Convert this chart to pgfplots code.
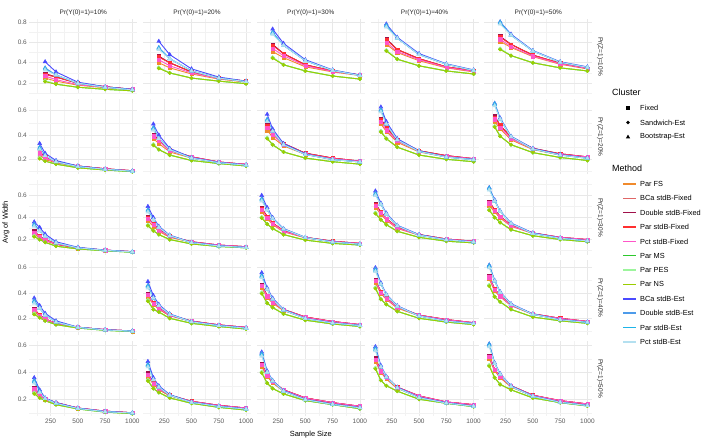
\documentclass[border=0pt]{standalone}
\usepackage{pgfplots}
\usepackage{pgfplotstable}
\pgfplotsset{compat=1.18}
\usepackage{fontspec}
\setmainfont{Liberation Sans}

\definecolor{colA}{RGB}{240,138,44}
\definecolor{colB}{RGB}{224,102,102}
\definecolor{colC}{RGB}{160,16,74}
\definecolor{colD}{RGB}{255,48,48}
\definecolor{colE}{RGB}{255,85,200}
\definecolor{colF}{RGB}{45,200,45}
\definecolor{colG}{RGB}{157,245,157}
\definecolor{colH}{RGB}{154,205,0}
\definecolor{colI}{RGB}{74,74,255}
\definecolor{colJ}{RGB}{77,155,234}
\definecolor{colK}{RGB}{30,180,232}
\definecolor{colL}{RGB}{180,224,240}

\pgfplotstableread{
n FS BCaF DblF ParF PctF MS PES NS BCaE DblE ParE PctE
200 0.25 0.29 0.295 0.285 0.27 0.22 0.225 0.215 0.41 0.35 0.34 0.33
300 0.22 0.26 0.26 0.26 0.235 0.19 0.19 0.19 0.31 0.28 0.28 0.28
500 0.18 0.20 0.20 0.20 0.185 0.16 0.16 0.16 0.21 0.20 0.20 0.20
750 0.155 0.165 0.165 0.165 0.16 0.14 0.14 0.14 0.165 0.16 0.16 0.16
1000 0.135 0.14 0.14 0.14 0.14 0.125 0.125 0.125 0.14 0.135 0.135 0.135
}\rAcA
\pgfplotstableread{
n FS BCaF DblF ParF PctF MS PES NS BCaE DblE ParE PctE
200 0.40 0.46 0.465 0.455 0.43 0.35 0.355 0.345 0.61 0.55 0.54 0.53
300 0.35 0.40 0.40 0.40 0.37 0.30 0.30 0.30 0.48 0.44 0.44 0.44
500 0.29 0.31 0.31 0.31 0.30 0.25 0.25 0.25 0.34 0.32 0.32 0.32
750 0.24 0.25 0.25 0.25 0.245 0.22 0.22 0.22 0.26 0.25 0.25 0.25
1000 0.21 0.22 0.22 0.22 0.215 0.195 0.195 0.195 0.22 0.215 0.215 0.215
}\rAcB
\pgfplotstableread{
n FS BCaF DblF ParF PctF MS PES NS BCaE DblE ParE PctE
200 0.51 0.575 0.58 0.57 0.54 0.45 0.455 0.445 0.73 0.70 0.69 0.68
300 0.45 0.49 0.49 0.49 0.47 0.38 0.38 0.38 0.59 0.57 0.57 0.57
500 0.36 0.38 0.38 0.38 0.37 0.32 0.32 0.32 0.43 0.42 0.42 0.42
750 0.31 0.32 0.32 0.32 0.315 0.27 0.27 0.27 0.33 0.325 0.325 0.325
1000 0.275 0.28 0.28 0.28 0.28 0.24 0.24 0.24 0.28 0.275 0.275 0.275
}\rAcC
\pgfplotstableread{
n FS BCaF DblF ParF PctF MS PES NS BCaE DblE ParE PctE
200 0.58 0.63 0.635 0.625 0.60 0.52 0.525 0.515 0.78 0.77 0.76 0.75
300 0.50 0.53 0.53 0.53 0.51 0.435 0.435 0.435 0.65 0.64 0.64 0.64
500 0.42 0.44 0.44 0.44 0.43 0.37 0.37 0.37 0.49 0.48 0.48 0.48
750 0.35 0.36 0.36 0.36 0.355 0.32 0.32 0.32 0.39 0.385 0.385 0.385
1000 0.31 0.32 0.32 0.32 0.315 0.29 0.29 0.29 0.33 0.325 0.325 0.325
}\rAcD
\pgfplotstableread{
n FS BCaF DblF ParF PctF MS PES NS BCaE DblE ParE PctE
200 0.61 0.655 0.66 0.65 0.63 0.535 0.54 0.53 0.80 0.80 0.79 0.78
300 0.55 0.58 0.58 0.58 0.56 0.47 0.47 0.47 0.68 0.67 0.67 0.67
500 0.46 0.475 0.475 0.475 0.465 0.40 0.40 0.40 0.52 0.515 0.515 0.515
750 0.385 0.395 0.395 0.395 0.39 0.35 0.35 0.35 0.41 0.405 0.405 0.405
1000 0.34 0.345 0.345 0.345 0.345 0.32 0.32 0.32 0.36 0.355 0.355 0.355
}\rAcE
\pgfplotstableread{
n FS BCaF DblF ParF PctF MS PES NS BCaE DblE ParE PctE
150 0.235 0.26 0.265 0.255 0.25 0.21 0.215 0.205 0.33 0.30 0.29 0.28
200 0.20 0.22 0.22 0.22 0.21 0.185 0.185 0.185 0.25 0.23 0.23 0.23
300 0.17 0.18 0.18 0.18 0.175 0.16 0.16 0.16 0.19 0.18 0.18 0.18
500 0.14 0.145 0.145 0.145 0.143 0.13 0.13 0.13 0.145 0.14 0.14 0.14
750 0.12 0.122 0.122 0.122 0.121 0.112 0.112 0.112 0.12 0.118 0.118 0.118
1000 0.104 0.106 0.106 0.106 0.106 0.098 0.098 0.098 0.104 0.102 0.102 0.102
}\rBcA
\pgfplotstableread{
n FS BCaF DblF ParF PctF MS PES NS BCaE DblE ParE PctE
150 0.37 0.40 0.405 0.395 0.39 0.32 0.325 0.315 0.49 0.46 0.45 0.44
200 0.33 0.36 0.36 0.36 0.35 0.28 0.28 0.28 0.40 0.37 0.37 0.37
300 0.26 0.275 0.275 0.275 0.27 0.235 0.235 0.235 0.29 0.28 0.28 0.28
500 0.21 0.22 0.22 0.22 0.218 0.19 0.19 0.19 0.215 0.21 0.21 0.21
750 0.172 0.178 0.178 0.178 0.177 0.165 0.165 0.165 0.175 0.172 0.172 0.172
1000 0.153 0.158 0.158 0.158 0.158 0.145 0.145 0.145 0.155 0.152 0.152 0.152
}\rBcB
\pgfplotstableread{
n FS BCaF DblF ParF PctF MS PES NS BCaE DblE ParE PctE
150 0.44 0.48 0.485 0.475 0.46 0.375 0.38 0.37 0.57 0.53 0.52 0.51
200 0.38 0.42 0.42 0.42 0.40 0.32 0.32 0.32 0.45 0.43 0.43 0.43
300 0.31 0.33 0.33 0.33 0.32 0.26 0.26 0.26 0.33 0.32 0.32 0.32
500 0.24 0.25 0.25 0.25 0.245 0.21 0.21 0.21 0.245 0.24 0.24 0.24
750 0.20 0.21 0.21 0.21 0.205 0.18 0.18 0.18 0.20 0.198 0.198 0.198
1000 0.18 0.185 0.185 0.185 0.185 0.16 0.16 0.16 0.18 0.178 0.178 0.178
}\rBcC
\pgfplotstableread{
n FS BCaF DblF ParF PctF MS PES NS BCaE DblE ParE PctE
150 0.49 0.53 0.535 0.525 0.51 0.43 0.435 0.425 0.63 0.61 0.60 0.59
200 0.43 0.46 0.46 0.46 0.44 0.37 0.37 0.37 0.51 0.49 0.49 0.49
300 0.34 0.36 0.36 0.36 0.35 0.30 0.30 0.30 0.37 0.36 0.36 0.36
500 0.26 0.27 0.27 0.27 0.265 0.235 0.235 0.235 0.27 0.265 0.265 0.265
750 0.22 0.23 0.23 0.23 0.225 0.20 0.20 0.20 0.22 0.218 0.218 0.218
1000 0.20 0.205 0.205 0.205 0.205 0.18 0.18 0.18 0.20 0.197 0.197 0.197
}\rBcD
\pgfplotstableread{
n FS BCaF DblF ParF PctF MS PES NS BCaE DblE ParE PctE
150 0.51 0.55 0.555 0.545 0.53 0.47 0.475 0.465 0.66 0.66 0.65 0.64
200 0.45 0.48 0.48 0.48 0.46 0.39 0.39 0.39 0.54 0.53 0.53 0.53
300 0.36 0.38 0.38 0.38 0.37 0.32 0.32 0.32 0.39 0.385 0.385 0.385
500 0.28 0.29 0.29 0.29 0.285 0.255 0.255 0.255 0.29 0.285 0.285 0.285
750 0.235 0.245 0.245 0.245 0.24 0.215 0.215 0.215 0.24 0.235 0.235 0.235
1000 0.215 0.22 0.22 0.22 0.22 0.19 0.19 0.19 0.21 0.208 0.208 0.208
}\rBcE
\pgfplotstableread{
n FS BCaF DblF ParF PctF MS PES NS BCaE DblE ParE PctE
100 0.25 0.27 0.275 0.265 0.26 0.23 0.235 0.225 0.36 0.34 0.33 0.32
150 0.215 0.23 0.23 0.23 0.225 0.20 0.20 0.20 0.31 0.28 0.28 0.28
200 0.19 0.20 0.20 0.20 0.195 0.175 0.175 0.175 0.25 0.23 0.23 0.23
300 0.155 0.16 0.16 0.16 0.16 0.14 0.14 0.14 0.18 0.17 0.17 0.17
500 0.122 0.125 0.125 0.125 0.125 0.115 0.115 0.115 0.13 0.125 0.125 0.125
750 0.102 0.104 0.104 0.104 0.104 0.098 0.098 0.098 0.105 0.102 0.102 0.102
1000 0.088 0.09 0.09 0.09 0.09 0.085 0.085 0.085 0.09 0.088 0.088 0.088
}\rCcA
\pgfplotstableread{
n FS BCaF DblF ParF PctF MS PES NS BCaE DblE ParE PctE
100 0.37 0.40 0.405 0.395 0.39 0.33 0.335 0.325 0.50 0.47 0.46 0.45
150 0.32 0.34 0.34 0.34 0.335 0.28 0.28 0.28 0.40 0.38 0.38 0.38
200 0.275 0.29 0.29 0.29 0.285 0.245 0.245 0.245 0.32 0.31 0.31 0.31
300 0.22 0.23 0.23 0.23 0.228 0.20 0.20 0.20 0.24 0.235 0.235 0.235
500 0.175 0.18 0.18 0.18 0.178 0.16 0.16 0.16 0.175 0.172 0.172 0.172
750 0.147 0.15 0.15 0.15 0.15 0.137 0.137 0.137 0.145 0.142 0.142 0.142
1000 0.132 0.135 0.135 0.135 0.135 0.125 0.125 0.125 0.13 0.128 0.128 0.128
}\rCcB
\pgfplotstableread{
n FS BCaF DblF ParF PctF MS PES NS BCaE DblE ParE PctE
100 0.45 0.48 0.485 0.475 0.47 0.40 0.405 0.395 0.60 0.57 0.56 0.55
150 0.39 0.41 0.41 0.41 0.40 0.34 0.34 0.34 0.49 0.47 0.47 0.47
200 0.335 0.35 0.35 0.35 0.345 0.30 0.30 0.30 0.40 0.39 0.39 0.39
300 0.27 0.28 0.28 0.28 0.275 0.245 0.245 0.245 0.30 0.295 0.295 0.295
500 0.215 0.22 0.22 0.22 0.218 0.195 0.195 0.195 0.22 0.218 0.218 0.218
750 0.18 0.185 0.185 0.185 0.183 0.165 0.165 0.165 0.18 0.178 0.178 0.178
1000 0.162 0.165 0.165 0.165 0.165 0.15 0.15 0.15 0.16 0.158 0.158 0.158
}\rCcC
\pgfplotstableread{
n FS BCaF DblF ParF PctF MS PES NS BCaE DblE ParE PctE
100 0.49 0.52 0.525 0.515 0.51 0.44 0.445 0.435 0.64 0.62 0.61 0.60
150 0.43 0.45 0.45 0.45 0.44 0.38 0.38 0.38 0.53 0.52 0.52 0.52
200 0.375 0.39 0.39 0.39 0.385 0.335 0.335 0.335 0.44 0.43 0.43 0.43
300 0.30 0.31 0.31 0.31 0.305 0.275 0.275 0.275 0.33 0.325 0.325 0.325
500 0.24 0.245 0.245 0.245 0.242 0.22 0.22 0.22 0.245 0.24 0.24 0.24
750 0.20 0.205 0.205 0.205 0.203 0.185 0.185 0.185 0.20 0.198 0.198 0.198
1000 0.182 0.185 0.185 0.185 0.185 0.17 0.17 0.17 0.18 0.178 0.178 0.178
}\rCcD
\pgfplotstableread{
n FS BCaF DblF ParF PctF MS PES NS BCaE DblE ParE PctE
100 0.51 0.54 0.545 0.535 0.53 0.47 0.475 0.465 0.67 0.67 0.66 0.65
150 0.45 0.47 0.47 0.47 0.46 0.40 0.40 0.40 0.56 0.55 0.55 0.55
200 0.395 0.41 0.41 0.41 0.405 0.355 0.355 0.355 0.46 0.455 0.455 0.455
300 0.32 0.33 0.33 0.33 0.325 0.29 0.29 0.29 0.35 0.345 0.345 0.345
500 0.255 0.26 0.26 0.26 0.258 0.235 0.235 0.235 0.26 0.255 0.255 0.255
750 0.215 0.22 0.22 0.22 0.22 0.20 0.20 0.20 0.215 0.212 0.212 0.212
1000 0.195 0.20 0.20 0.20 0.20 0.18 0.18 0.18 0.19 0.188 0.188 0.188
}\rCcE
\pgfplotstableread{
n FS BCaF DblF ParF PctF MS PES NS BCaE DblE ParE PctE
100 0.255 0.27 0.275 0.265 0.265 0.235 0.24 0.23 0.36 0.34 0.33 0.32
150 0.215 0.225 0.225 0.225 0.22 0.205 0.205 0.205 0.30 0.28 0.28 0.28
200 0.19 0.195 0.195 0.195 0.193 0.18 0.18 0.18 0.24 0.225 0.225 0.225
300 0.155 0.16 0.16 0.16 0.16 0.15 0.15 0.15 0.18 0.17 0.17 0.17
500 0.128 0.13 0.13 0.13 0.13 0.123 0.123 0.123 0.13 0.128 0.128 0.128
750 0.108 0.11 0.11 0.11 0.11 0.105 0.105 0.105 0.11 0.108 0.108 0.108
1000 0.098 0.10 0.10 0.10 0.10 0.095 0.095 0.095 0.10 0.098 0.098 0.098
}\rDcA
\pgfplotstableread{
n FS BCaF DblF ParF PctF MS PES NS BCaE DblE ParE PctE
100 0.37 0.39 0.395 0.385 0.385 0.34 0.345 0.335 0.49 0.46 0.45 0.44
150 0.31 0.32 0.32 0.32 0.318 0.27 0.27 0.27 0.38 0.36 0.36 0.36
200 0.27 0.28 0.28 0.28 0.278 0.25 0.25 0.25 0.31 0.30 0.30 0.30
300 0.22 0.225 0.225 0.225 0.223 0.20 0.20 0.20 0.235 0.23 0.23 0.23
500 0.174 0.178 0.178 0.178 0.177 0.16 0.16 0.16 0.175 0.172 0.172 0.172
750 0.145 0.148 0.148 0.148 0.147 0.135 0.135 0.135 0.145 0.142 0.142 0.142
1000 0.126 0.128 0.128 0.128 0.128 0.115 0.115 0.115 0.125 0.122 0.122 0.122
}\rDcB
\pgfplotstableread{
n FS BCaF DblF ParF PctF MS PES NS BCaE DblE ParE PctE
100 0.44 0.46 0.465 0.455 0.455 0.40 0.405 0.395 0.56 0.54 0.53 0.52
150 0.365 0.38 0.38 0.38 0.375 0.32 0.32 0.32 0.44 0.43 0.43 0.43
200 0.32 0.33 0.33 0.33 0.328 0.285 0.285 0.285 0.36 0.35 0.35 0.35
300 0.26 0.27 0.27 0.27 0.268 0.235 0.235 0.235 0.27 0.265 0.265 0.265
500 0.205 0.21 0.21 0.21 0.208 0.185 0.185 0.185 0.20 0.198 0.198 0.198
750 0.17 0.175 0.175 0.175 0.174 0.155 0.155 0.155 0.165 0.163 0.163 0.163
1000 0.147 0.15 0.15 0.15 0.15 0.135 0.135 0.135 0.145 0.143 0.143 0.143
}\rDcC
\pgfplotstableread{
n FS BCaF DblF ParF PctF MS PES NS BCaE DblE ParE PctE
100 0.48 0.50 0.505 0.495 0.495 0.44 0.445 0.435 0.60 0.59 0.58 0.57
150 0.395 0.41 0.41 0.41 0.405 0.35 0.35 0.35 0.48 0.47 0.47 0.47
200 0.35 0.36 0.36 0.36 0.355 0.31 0.31 0.31 0.39 0.385 0.385 0.385
300 0.28 0.29 0.29 0.29 0.288 0.255 0.255 0.255 0.30 0.295 0.295 0.295
500 0.22 0.225 0.225 0.225 0.224 0.20 0.20 0.20 0.22 0.218 0.218 0.218
750 0.185 0.19 0.19 0.19 0.189 0.17 0.17 0.17 0.18 0.178 0.178 0.178
1000 0.162 0.165 0.165 0.165 0.165 0.15 0.15 0.15 0.16 0.158 0.158 0.158
}\rDcD
\pgfplotstableread{
n FS BCaF DblF ParF PctF MS PES NS BCaE DblE ParE PctE
100 0.51 0.53 0.535 0.525 0.525 0.46 0.465 0.455 0.62 0.62 0.61 0.60
150 0.415 0.43 0.43 0.43 0.425 0.37 0.37 0.37 0.50 0.495 0.495 0.495
200 0.37 0.38 0.38 0.38 0.375 0.33 0.33 0.33 0.41 0.405 0.405 0.405
300 0.30 0.305 0.305 0.305 0.303 0.27 0.27 0.27 0.315 0.31 0.31 0.31
500 0.23 0.235 0.235 0.235 0.234 0.21 0.21 0.21 0.235 0.232 0.232 0.232
750 0.195 0.20 0.20 0.20 0.199 0.18 0.18 0.18 0.19 0.188 0.188 0.188
1000 0.172 0.175 0.175 0.175 0.175 0.16 0.16 0.16 0.17 0.168 0.168 0.168
}\rDcE
\pgfplotstableread{
n FS BCaF DblF ParF PctF MS PES NS BCaE DblE ParE PctE
100 0.265 0.28 0.285 0.275 0.275 0.245 0.25 0.24 0.36 0.34 0.33 0.32
150 0.22 0.23 0.23 0.23 0.228 0.21 0.21 0.21 0.27 0.26 0.255 0.25
200 0.20 0.205 0.205 0.205 0.203 0.19 0.19 0.19 0.21 0.205 0.205 0.205
300 0.17 0.175 0.175 0.175 0.174 0.16 0.16 0.16 0.175 0.17 0.17 0.17
500 0.133 0.135 0.135 0.135 0.135 0.128 0.128 0.128 0.135 0.132 0.132 0.132
750 0.11 0.112 0.112 0.112 0.112 0.105 0.105 0.105 0.11 0.108 0.108 0.108
1000 0.098 0.10 0.10 0.10 0.10 0.093 0.093 0.093 0.10 0.098 0.098 0.098
}\rEcA
\pgfplotstableread{
n FS BCaF DblF ParF PctF MS PES NS BCaE DblE ParE PctE
100 0.37 0.39 0.395 0.385 0.385 0.34 0.345 0.335 0.48 0.46 0.45 0.44
150 0.31 0.32 0.32 0.32 0.318 0.28 0.28 0.28 0.36 0.345 0.345 0.345
200 0.27 0.28 0.28 0.28 0.278 0.25 0.25 0.25 0.30 0.29 0.29 0.29
300 0.225 0.23 0.23 0.23 0.229 0.21 0.21 0.21 0.235 0.23 0.23 0.23
500 0.18 0.185 0.185 0.185 0.184 0.17 0.17 0.17 0.18 0.177 0.177 0.177
750 0.15 0.155 0.155 0.155 0.154 0.14 0.14 0.14 0.15 0.147 0.147 0.147
1000 0.132 0.135 0.135 0.135 0.135 0.12 0.12 0.12 0.13 0.127 0.127 0.127
}\rEcB
\pgfplotstableread{
n FS BCaF DblF ParF PctF MS PES NS BCaE DblE ParE PctE
100 0.44 0.46 0.465 0.455 0.455 0.40 0.405 0.395 0.55 0.54 0.53 0.52
150 0.37 0.38 0.38 0.38 0.378 0.32 0.32 0.32 0.41 0.40 0.40 0.40
200 0.32 0.33 0.33 0.33 0.328 0.28 0.28 0.28 0.34 0.335 0.335 0.335
300 0.26 0.27 0.27 0.27 0.268 0.24 0.24 0.24 0.265 0.26 0.26 0.26
500 0.205 0.21 0.21 0.21 0.209 0.19 0.19 0.19 0.20 0.197 0.197 0.197
750 0.17 0.175 0.175 0.175 0.175 0.16 0.16 0.16 0.165 0.162 0.162 0.162
1000 0.145 0.148 0.148 0.148 0.148 0.13 0.13 0.13 0.14 0.137 0.137 0.137
}\rEcC
\pgfplotstableread{
n FS BCaF DblF ParF PctF MS PES NS BCaE DblE ParE PctE
100 0.48 0.50 0.505 0.495 0.495 0.43 0.435 0.425 0.59 0.58 0.57 0.56
150 0.40 0.41 0.41 0.41 0.408 0.34 0.34 0.34 0.45 0.44 0.44 0.44
200 0.35 0.36 0.36 0.36 0.358 0.30 0.30 0.30 0.37 0.365 0.365 0.365
300 0.28 0.29 0.29 0.29 0.288 0.26 0.26 0.26 0.29 0.285 0.285 0.285
500 0.22 0.225 0.225 0.225 0.224 0.20 0.20 0.20 0.215 0.212 0.212 0.212
750 0.177 0.18 0.18 0.18 0.18 0.17 0.17 0.17 0.175 0.172 0.172 0.172
1000 0.157 0.16 0.16 0.16 0.16 0.145 0.145 0.145 0.15 0.148 0.148 0.148
}\rEcD
\pgfplotstableread{
n FS BCaF DblF ParF PctF MS PES NS BCaE DblE ParE PctE
100 0.50 0.52 0.525 0.515 0.515 0.45 0.455 0.445 0.61 0.61 0.60 0.59
150 0.41 0.42 0.42 0.42 0.418 0.36 0.36 0.36 0.47 0.465 0.465 0.465
200 0.36 0.37 0.37 0.37 0.368 0.31 0.31 0.31 0.39 0.385 0.385 0.385
300 0.29 0.30 0.30 0.30 0.298 0.27 0.27 0.27 0.30 0.295 0.295 0.295
500 0.225 0.23 0.23 0.23 0.229 0.21 0.21 0.21 0.225 0.222 0.222 0.222
750 0.185 0.19 0.19 0.19 0.19 0.175 0.175 0.175 0.18 0.178 0.178 0.178
1000 0.162 0.165 0.165 0.165 0.165 0.15 0.15 0.15 0.155 0.153 0.153 0.153
}\rEcE

\pgfplotsset{
  panel/.style={anchor=south west, width=108bp, height=75bp, scale only axis,
    xmin=55, xmax=1045,
    xtick={250,500,750,1000}, minor xtick={125,375,625,875},
    ytick={0.2,0.4,0.6,0.8}, minor ytick={0.1,0.3,0.5,0.7},
    grid=both,
    major grid style={draw=black!9, line width=0.55bp},
    minor grid style={draw=black!5, line width=0.3bp},
    axis line style={draw=none}, tick style={draw=none},
    tick label style={font=\fontsize{6.5}{7}\selectfont, text=black!65},
    /pgf/number format/assume math mode=true,
    /pgf/number format/1000 sep={},
    xticklabel style={yshift=1bp},
    yticklabel style={xshift=1bp},
  },
  ln/.style={line width=0.9bp, mark=none},
  sq/.style={only marks, mark=square*, mark size=1.6bp},
  ci/.style={only marks, mark=*, mark size=1.7bp},
  tr/.style={only marks, mark=triangle*, mark size=2.3bp},
}

% lines first, then points (as ggplot draws them)
\newcommand\plotall[1]{%
  \addplot[colA, ln] table[x=n,y=FS]{#1};
  \addplot[colB, ln] table[x=n,y=BCaF]{#1};
  \addplot[colC, ln] table[x=n,y=DblF]{#1};
  \addplot[colD, ln] table[x=n,y=ParF]{#1};
  \addplot[colE, ln] table[x=n,y=PctF]{#1};
  \addplot[colF, ln] table[x=n,y=MS]{#1};
  \addplot[colG, ln] table[x=n,y=PES]{#1};
  \addplot[colH, ln] table[x=n,y=NS]{#1};
  \addplot[colI, ln] table[x=n,y=BCaE]{#1};
  \addplot[colJ, ln] table[x=n,y=DblE]{#1};
  \addplot[colK, ln] table[x=n,y=ParE]{#1};
  \addplot[colL, ln] table[x=n,y=PctE]{#1};
  \addplot[colA, sq] table[x=n,y=FS]{#1};
  \addplot[colB, sq] table[x=n,y=BCaF]{#1};
  \addplot[colC, sq] table[x=n,y=DblF]{#1};
  \addplot[colD, sq] table[x=n,y=ParF]{#1};
  \addplot[colE, sq] table[x=n,y=PctF]{#1};
  \addplot[colF, ci] table[x=n,y=MS]{#1};
  \addplot[colG, ci] table[x=n,y=PES]{#1};
  \addplot[colH, ci] table[x=n,y=NS]{#1};
  \addplot[colI, tr] table[x=n,y=BCaE]{#1};
  \addplot[colJ, tr] table[x=n,y=DblE]{#1};
  \addplot[colK, tr] table[x=n,y=ParE]{#1};
  \addplot[colL, tr] table[x=n,y=PctE]{#1};
}
\newcommand\panel[6]{%
  \begin{axis}[panel, at={(#1bp,#2bp)}, ymin=#4, ymax=#5, #6]
  \plotall{#3}
  \end{axis}}

\begin{document}
\begin{tikzpicture}[x=1bp,y=1bp]
\useasboundingbox (0,0) rectangle (720,444);
% legend
\begin{scope}[every node/.style={font=\fontsize{7.4}{8}\selectfont, anchor=west, inner sep=0pt}]
\node[font=\fontsize{9}{10}\selectfont] at (612,352) {Cluster};
\fill (626.2,334.2) rectangle (629.8,337.8); \node at (640,336) {Fixed};
\fill (628,321.5) circle (1.9); \node at (640,321.5) {Sandwich-Est};
\fill (628,309.4) -- (625.9,305.7) -- (630.1,305.7) -- cycle; \node at (640,307) {Bootstrap-Est};
\node[font=\fontsize{9}{10}\selectfont] at (612,276) {Method};
\fill[colA] (622.5,259.25) rectangle (635.5,260.75); \node at (640,260.00) {Par FS};
\fill[colB] (622.5,244.90) rectangle (635.5,246.40); \node at (640,245.65) {BCa stdB-Fixed};
\fill[colC] (622.5,230.55) rectangle (635.5,232.05); \node at (640,231.30) {Double stdB-Fixed};
\fill[colD] (622.5,216.20) rectangle (635.5,217.70); \node at (640,216.95) {Par stdB-Fixed};
\fill[colE] (622.5,201.85) rectangle (635.5,203.35); \node at (640,202.60) {Pct stdB-Fixed};
\fill[colF] (622.5,187.50) rectangle (635.5,189.00); \node at (640,188.25) {Par MS};
\fill[colG] (622.5,173.15) rectangle (635.5,174.65); \node at (640,173.90) {Par PES};
\fill[colH] (622.5,158.80) rectangle (635.5,160.30); \node at (640,159.55) {Par NS};
\fill[colI] (622.5,144.45) rectangle (635.5,145.95); \node at (640,145.20) {BCa stdB-Est};
\fill[colJ] (622.5,130.10) rectangle (635.5,131.60); \node at (640,130.85) {Double stdB-Est};
\fill[colK] (622.5,115.75) rectangle (635.5,117.25); \node at (640,116.50) {Par stdB-Est};
\fill[colL] (622.5,101.40) rectangle (635.5,102.90); \node at (640,102.15) {Pct stdB-Est};
\end{scope}

\panel{29.3}{350}{\rAcA}{0.094}{0.829}{xticklabels={}}
\panel{143.0}{350}{\rAcB}{0.094}{0.829}{xticklabels={},yticklabels={}}
\panel{256.8}{350}{\rAcC}{0.094}{0.829}{xticklabels={},yticklabels={}}
\panel{370.5}{350}{\rAcD}{0.094}{0.829}{xticklabels={},yticklabels={}}
\panel{484.3}{350}{\rAcE}{0.094}{0.829}{xticklabels={},yticklabels={}}
\panel{29.3}{269.5}{\rBcA}{0.075}{0.692}{xticklabels={}}
\panel{143.0}{269.5}{\rBcB}{0.075}{0.692}{xticklabels={},yticklabels={}}
\panel{256.8}{269.5}{\rBcC}{0.075}{0.692}{xticklabels={},yticklabels={}}
\panel{370.5}{269.5}{\rBcD}{0.075}{0.692}{xticklabels={},yticklabels={}}
\panel{484.3}{269.5}{\rBcE}{0.075}{0.692}{xticklabels={},yticklabels={}}
\panel{29.3}{189}{\rCcA}{0.06}{0.74}{xticklabels={}}
\panel{143.0}{189}{\rCcB}{0.06}{0.74}{xticklabels={},yticklabels={}}
\panel{256.8}{189}{\rCcC}{0.06}{0.74}{xticklabels={},yticklabels={}}
\panel{370.5}{189}{\rCcD}{0.06}{0.74}{xticklabels={},yticklabels={}}
\panel{484.3}{189}{\rCcE}{0.06}{0.74}{xticklabels={},yticklabels={}}
\panel{29.3}{108.5}{\rDcA}{0.064}{0.657}{xticklabels={}}
\panel{143.0}{108.5}{\rDcB}{0.064}{0.657}{xticklabels={},yticklabels={}}
\panel{256.8}{108.5}{\rDcC}{0.064}{0.657}{xticklabels={},yticklabels={}}
\panel{370.5}{108.5}{\rDcD}{0.064}{0.657}{xticklabels={},yticklabels={}}
\panel{484.3}{108.5}{\rDcE}{0.064}{0.657}{xticklabels={},yticklabels={}}
\panel{29.3}{28}{\rEcA}{0.076}{0.632}{}
\panel{143.0}{28}{\rEcB}{0.076}{0.632}{yticklabels={}}
\panel{256.8}{28}{\rEcC}{0.076}{0.632}{yticklabels={}}
\panel{370.5}{28}{\rEcD}{0.076}{0.632}{yticklabels={}}
\panel{484.3}{28}{\rEcE}{0.076}{0.632}{yticklabels={}}

\begin{scope}[every node/.style={font=\fontsize{6.5}{7}\selectfont, text=black!85, inner sep=0pt}]
\node at (83.3,431) {Pr(Y(0)=1)=10\%};
\node at (197.0,431) {Pr(Y(0)=1)=20\%};
\node at (310.8,431) {Pr(Y(0)=1)=30\%};
\node at (424.5,431) {Pr(Y(0)=1)=40\%};
\node at (538.3,431) {Pr(Y(0)=1)=50\%};
\node[rotate=-90] at (600,387.5) {Pr(Z=1)=10\%};
\node[rotate=-90] at (600,307) {Pr(Z=1)=20\%};
\node[rotate=-90] at (600,226.5) {Pr(Z=1)=30\%};
\node[rotate=-90] at (600,146) {Pr(Z=1)=40\%};
\node[rotate=-90] at (600,65.5) {Pr(Z=1)=50\%};
\end{scope}
\node[font=\fontsize{7.5}{8}\selectfont, inner sep=0pt] at (310.8,9) {Sample Size};
\node[font=\fontsize{7.5}{8}\selectfont, inner sep=0pt, rotate=90] at (6,222) {Avg of Width};
\end{tikzpicture}
\end{document}
